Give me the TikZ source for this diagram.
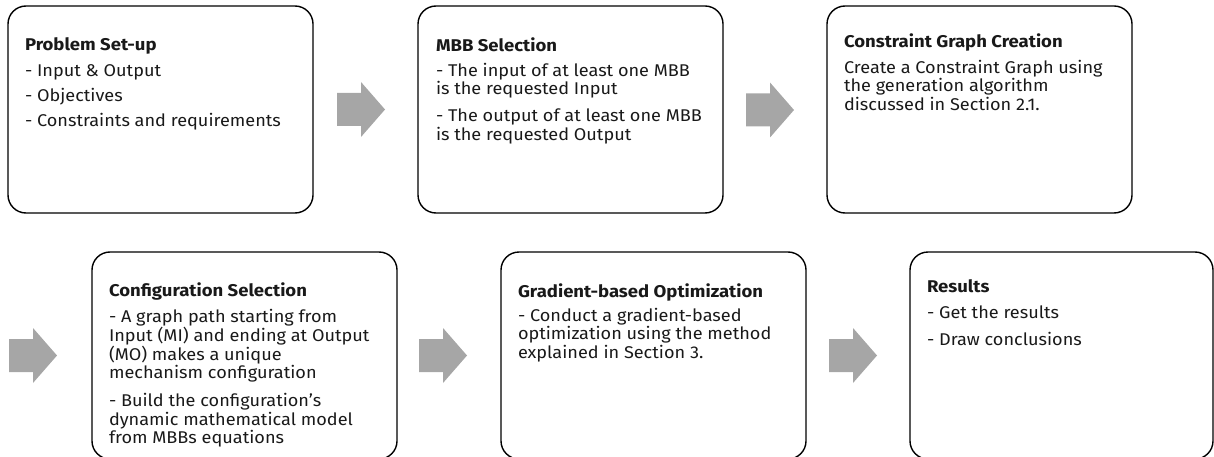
\documentclass[tikz,border=0pt]{standalone}
\usepackage{fontspec}
\setmainfont{Fira Sans}[FakeStretch=1.065, BoldFeatures={FakeStretch=1.09}]
\newcommand\blkarrow[1]{\fill[arrowfill] (#1) ++(0,-16.5) -- ++(24,0) -- ++(0,-11) -- ++(24,27.5) -- ++(-24,27.5) -- ++(0,-11) -- ++(-24,0) -- cycle;}
\begin{document}
\begin{tikzpicture}[x=1pt,y=-1pt,
  box/.style={draw=black, line width=1.4pt, rounded corners=18pt, minimum width=305pt, minimum height=207pt, anchor=north west, inner sep=0pt, outer sep=0pt},
  txt/.style={anchor=north west, align=left, inner sep=0pt, outer sep=0pt, font=\fontsize{17}{18.6}\selectfont, text=black!90},
  arrowfill/.style={fill=black!35, draw=none}]
\useasboundingbox (0,0) rectangle (1214,457);
\clip (0,0) rectangle (1214,457);
% boxes
\node[box] (b1) at (8,6) {};
\node[box] (b2) at (418,6) {};
\node[box] (b3) at (827,6) {};
\node[box] (b4) at (92,252) {};
\node[box] (b5) at (501,252) {};
\node[box, minimum width=303pt] (b6) at (910,252) {};
% texts
\node[txt] (t1) at ([shift={(17,31.5)}]b1.north west) {\textbf{Problem Set-up}\\[7.4pt]- Input \& Output\\[6.4pt]- Objectives\\[6.4pt]- Constraints and requirements};
\node[txt] (t2) at ([shift={(18,31.5)}]b2.north west) {\textbf{MBB Selection}\\[6.4pt]- The input of at least one MBB\\is the requested Input\\[8.4pt]- The output of at least one MBB\\is the requested Output};
\node[txt] (t3) at ([shift={(17,27.5)}]b3.north west) {\textbf{Constraint Graph Creation}\\[7.4pt]Create a Constraint Graph using\\the generation algorithm\\discussed in Section 2.1.};
\node[txt] (t4) at ([shift={(17,30.5)}]b4.north west) {\textbf{Configuration Selection}\\[8pt]- A graph path starting from\\Input (MI) and ending at Output\\(MO) makes a unique\\mechanism configuration\\[9.4pt]- Build the configuration’s\\dynamic mathematical model\\from MBBs equations};
\node[txt] (t5) at ([shift={(17,31.5)}]b5.north west) {\textbf{Gradient-based Optimization}\\[5.4pt]- Conduct a gradient-based\\optimization using the method\\explained in Section 3.};
\node[txt] (t6) at ([shift={(17,27.5)}]b6.north west) {\textbf{Results}\\[7pt]- Get the results\\[9pt]- Draw conclusions};
% block arrows
\coordinate (a1) at (337,109.5);
\coordinate (a2) at (746,110);
\coordinate (a3) at (9,355.5);
\coordinate (a4) at (419,355.5);
\coordinate (a5) at (829,355.5);
\blkarrow{a1}
\blkarrow{a2}
\blkarrow{a3}
\blkarrow{a4}
\blkarrow{a5}
\end{tikzpicture}
\end{document}
